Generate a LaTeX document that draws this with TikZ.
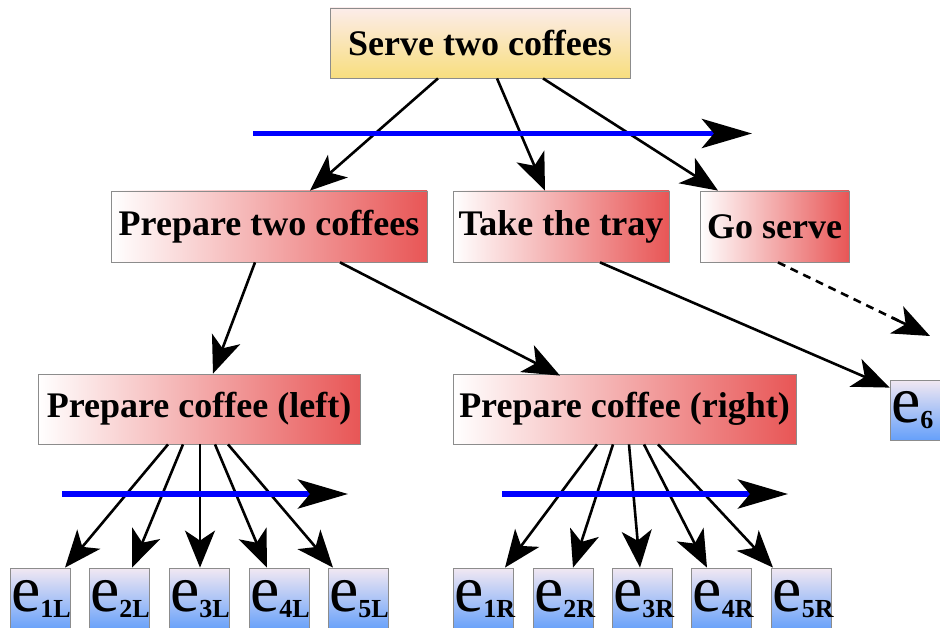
\documentclass[tikz,border=0pt]{standalone}
\usepackage{fontspec}
\setmainfont{Liberation Serif}
\usetikzlibrary{arrows.meta,calc}

\definecolor{taskred}{HTML}{E85656}
\definecolor{rootyellow}{HTML}{F8DE7E}
\definecolor{roottop}{HTML}{FCECEA}
\definecolor{leaftop}{HTML}{F2E8F2}
\definecolor{leafblue}{HTML}{66A0FA}
\definecolor{edgegray}{HTML}{8C8C8C}

\tikzset{
  boxlabel/.style={font=\fontsize{36}{40}\selectfont\bfseries},
  rootbox/.style={boxlabel, draw=edgegray, line width=0.8pt, inner sep=0pt,
    top color=roottop, bottom color=rootyellow, minimum height=70pt},
  taskbox/.style={boxlabel, draw=edgegray, line width=0.8pt, inner sep=0pt,
    left color=white, right color=taskred, minimum height=71pt},
  leafbox/.style={draw=edgegray, line width=0.8pt, inner sep=0pt,
    top color=leaftop, bottom color=leafblue,
    minimum width=60pt, minimum height=62pt},
  link/.style={line width=2.6pt, -{Stealth[length=37pt,width=30pt,inset=10pt]}},
  timeline/.style={blue, line width=5.5pt,
    -{Stealth[black,length=50pt,width=29pt,inset=12pt]}},
}

% leaf label: large "e" with a bold subscript
\newcommand{\leaflabel}[1]{{\fontsize{66}{66}\selectfont e}\raisebox{-6pt}{\fontsize{26}{26}\selectfont\bfseries #1}}

\begin{document}
\begin{tikzpicture}[x=1pt,y=-1pt]
\useasboundingbox (0,0) rectangle (940,628);

% tasks
\node[rootbox, minimum width=300pt] (serve) at (480,43) {Serve two coffees};
\node[taskbox, minimum width=316pt] (ptc) at (269,226.5) {Prepare two coffees};
\node[taskbox, minimum width=216pt] (tray) at (561,226.5) {Take the tray};
\node[taskbox, minimum width=149pt] (goserve) at (774.5,226.5) {Go serve};
\node[taskbox, minimum width=322pt, minimum height=70pt] (pcl) at (199,409) {Prepare coffee (left)};
\node[taskbox, minimum width=343pt, minimum height=70pt] (pcr) at (624.5,409) {Prepare coffee (right)};

% elementary actions
\node[leafbox, minimum height=60pt, text width=58pt, align=left] (e6) at (920,410) {\leaflabel{6}};
\foreach \n/\x in {1/40,2/119,3/199,4/279,5/358}
  \node[leafbox, text width=58pt, align=left] (e\n L) at (\x,599) {\leaflabel{\n L}};
\foreach \n/\x in {1/483,2/563,3/642,4/721.5,5/801.5}
  \node[leafbox, text width=58pt, align=left] (e\n R) at (\x,599) {\leaflabel{\n R}};

\coordinate (onward) at (930,336);
\coordinate (goout) at ([xshift=3.5pt]goserve.south);

% decomposition links
\draw[link] ([xshift=-42pt]serve.south) -- ([xshift=41pt]ptc.north);
\draw[link] ([xshift=17pt]serve.south) -- ([xshift=-16pt]tray.north);
\draw[link] ([xshift=63pt]serve.south) -- ([xshift=-56.5pt]goserve.north);
\draw[link] ([xshift=-14pt]ptc.south) -- ([xshift=14pt]pcl.north);
\draw[link] ([xshift=71pt]ptc.south) -- ([xshift=-64.5pt,yshift=-2pt]pcr.north);
\draw[link] ([xshift=39pt]tray.south) -- ([yshift=-8pt]e6.north west);
% open-ended continuation: dashed shaft, solid head
\draw[line width=2.6pt, dash pattern=on 8pt off 6pt, shorten >=34pt] (goout) -- (onward);
\draw[link] ($(goout)!0.75!(onward)$) -- (onward);

\foreach \n/\s/\t in {1/-31/25,2/-16/13,3/1/1,4/16/-12,5/29/-25}
  \draw[link] ([xshift=\s pt]pcl.south) -- ([xshift=\t pt]e\n L.north);
\foreach \n/\s/\t in {1/-27.5/22,2/-11.5/10,3/4.5/-2,4/19.5/-14.5,5/33.5/-28.5}
  \draw[link] ([xshift=\s pt]pcr.south) -- ([xshift=\t pt]e\n R.north);

% sequencing arrows
\coordinate (seqA) at (253,133.5);
\coordinate (seqAend) at (752,133.5);
\coordinate (seqB) at (62,494);
\coordinate (seqBend) at (348,494);
\coordinate (seqC) at (502,494);
\coordinate (seqCend) at (788,494);
\draw[timeline] (seqA) -- (seqAend);
\draw[timeline] (seqB) -- (seqBend);
\draw[timeline] (seqC) -- (seqCend);
\end{tikzpicture}
\end{document}
